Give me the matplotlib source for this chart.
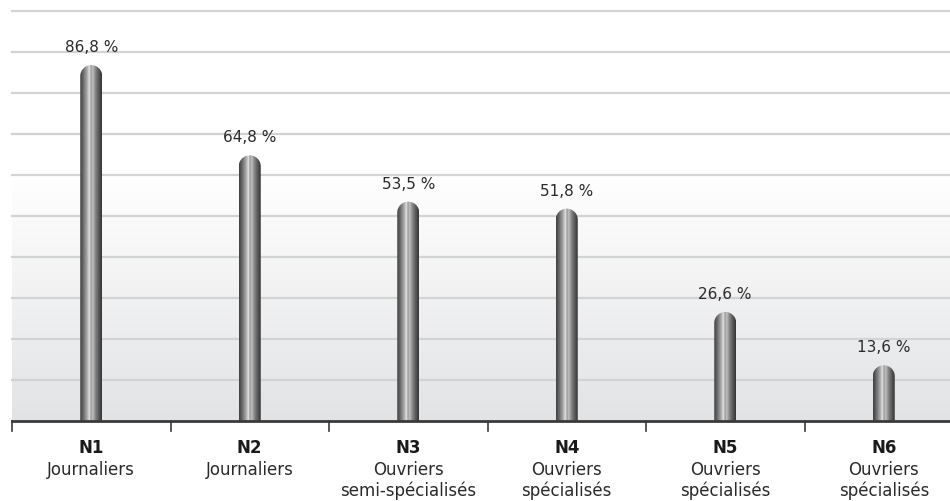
import matplotlib.pyplot as plt
import numpy as np
from matplotlib.colors import LinearSegmentedColormap
from matplotlib.path import Path
from matplotlib.patches import PathPatch

# data
codes = ['N1', 'N2', 'N3', 'N4', 'N5', 'N6']
groups = ['Journaliers', 'Journaliers', 'Ouvriers\nsemi-spécialisés',
          'Ouvriers\nspécialisés', 'Ouvriers\nspécialisés', 'Ouvriers\nspécialisés']
values = [86.8, 64.8, 53.5, 51.8, 26.6, 13.6]
value_labels = ['86,8 %', '64,8 %', '53,5 %', '51,8 %', '26,6 %', '13,6 %']

W, H, DPI = 950, 502, 100
fig = plt.figure(figsize=(W / DPI, H / DPI), dpi=DPI)
fig.patch.set_facecolor('white')

left, right, top, base = 12, 950, 12, 422
ax = fig.add_axes([left / W, (H - base) / H, (right - left) / W, (base - top) / H])
cat_px = 158.5
xmax = -0.5 + (right - left) / cat_px
ax.set_xlim(-0.5, xmax)
ax.set_ylim(0, 100)
ax.axis('off')

# background: white on top, soft grey fade below 60
bg = np.linspace(0, 1, 200).reshape(-1, 1)
bg_cmap = LinearSegmentedColormap.from_list('bg', ['#e2e3e5', '#ffffff'])
ax.imshow(bg, cmap=bg_cmap, extent=[-0.5, xmax, 0, 60], origin='lower',
          aspect='auto', zorder=0)

# horizontal grid
for g in range(10, 101, 10):
    ax.axhline(g, color='#d2d3d5', lw=1.6, zorder=1, clip_on=False)

# metallic bars with rounded tops
metal = LinearSegmentedColormap.from_list('metal', [
    (0.00, '#404040'), (0.12, '#606060'), (0.32, '#a8a8a8'),
    (0.44, '#e4e4e4'), (0.50, '#949494'), (0.57, '#c2c2c2'),
    (0.72, '#808080'), (0.88, '#525252'), (1.00, '#343434')])
shade = np.linspace(0, 1, 256).reshape(1, -1)

px_x = cat_px
px_y = (base - top) / 100.0
bw_px = 22
w = bw_px / px_x
ry = (bw_px / 2) / px_y
for i, v in enumerate(values):
    x0, x1 = i - w / 2, i + w / 2
    t = np.linspace(np.pi, 0, 40)
    arc = np.column_stack([i + (w / 2) * np.cos(t), v - ry + ry * np.sin(t)])
    verts = np.vstack([[x0, 0], [x0, v - ry], arc, [x1, 0], [x0, 0]])
    cds = [Path.MOVETO] + [Path.LINETO] * (len(verts) - 2) + [Path.CLOSEPOLY]
    patch = PathPatch(Path(verts, cds), facecolor='none', edgecolor='none')
    ax.add_patch(patch)
    im = ax.imshow(shade, cmap=metal, extent=[x0, x1, 0, v], aspect='auto',
                   zorder=3)
    im.set_clip_path(patch)
    ax.annotate(value_labels[i], (i, v), xytext=(0, 8), textcoords='offset points',
                ha='center', va='bottom', fontsize=11, color='#2a2a2a')

# baseline and category separators
ax.plot([-0.5, xmax], [0, 0], color='#3a3a3a', lw=2, zorder=4, clip_on=False)
for k in range(6):
    ax.plot([k - 0.5, k - 0.5], [0, -10 / px_y], color='#3a3a3a', lw=1.2,
            clip_on=False)

# category labels
for i in range(6):
    ax.text(i, -26 / px_y, codes[i], ha='center', va='center', fontsize=12,
            fontweight='bold', color='#1a1a1a')
    for j, line in enumerate(groups[i].split('\n')):
        ax.text(i, -(48 + 21 * j) / px_y, line, ha='center', va='center',
                fontsize=12, color='#2a2a2a')

fig.savefig('out.png', dpi=DPI)
